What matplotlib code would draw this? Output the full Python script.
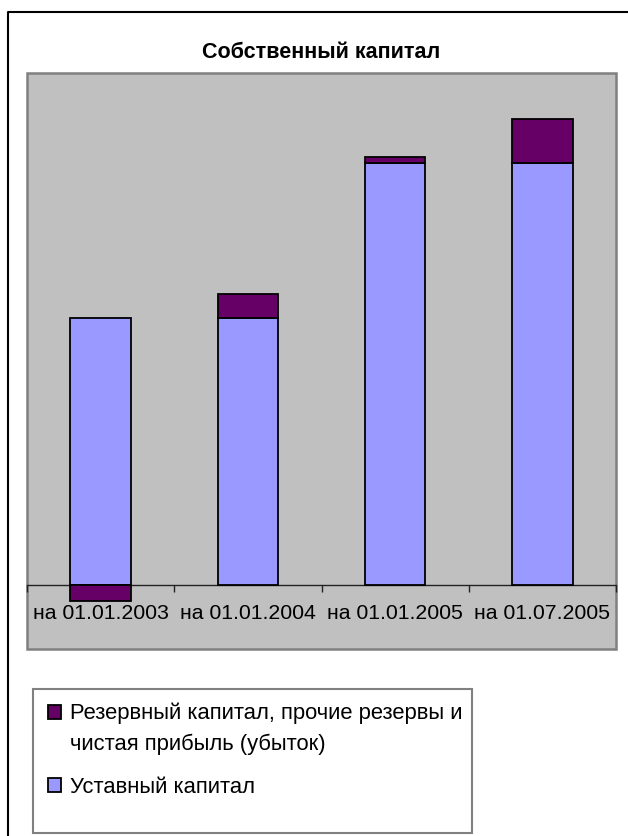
import matplotlib.pyplot as plt
import numpy as np
from matplotlib.patches import Rectangle
from matplotlib.lines import Line2D
from matplotlib.legend_handler import HandlerPatch

plt.rcParams['font.family'] = ['Liberation Sans', 'DejaVu Sans']

categories = ['на 01.01.2003', 'на 01.01.2004', 'на 01.01.2005', 'на 01.07.2005']
ustavny = [417, 417, 659, 659]
reserve = [-25, 37, 9, 69]

label_ustav = 'Уставный капитал'
label_reserve = 'Резервный капитал, прочие резервы и\nчистая прибыль (убыток)'

blue = '#9999FF'
purple = '#660066'

W, H = 628, 836
fig = plt.figure(figsize=(W / 100, H / 100), dpi=100)

# outer chart border: only top and left edges are inside the image
fig.lines.append(Line2D([8 / W, 8 / W, 1.0], [0.0, 1 - 12 / H, 1 - 12 / H],
                        transform=fig.transFigure, color='black', linewidth=1.5))

ax = fig.add_axes([27 / W, 1 - 649 / H, 589 / W, 576 / H])
ax.set_facecolor('#C0C0C0')
ax.patch.set_edgecolor('#808080')
ax.patch.set_linewidth(1.8)

x = np.arange(len(categories))
ustavny = np.array(ustavny)
reserve = np.array(reserve)
bottoms = np.where(reserve >= 0, ustavny, 0)

ax.bar(x, ustavny, width=0.41, color=blue, edgecolor='black', linewidth=1.3, zorder=2)
ax.bar(x, reserve, width=0.41, bottom=bottoms, color=purple, edgecolor='black', linewidth=1.3, zorder=2)

ax.set_xlim(-0.5, len(categories) - 0.5)
ax.set_ylim(-100, 800)
ax.set_yticks([])

for s in ['top', 'left', 'right']:
    ax.spines[s].set_visible(False)
ax.spines['bottom'].set_position(('data', 0))
ax.spines['bottom'].set_color('#222222')
ax.spines['bottom'].set_linewidth(1.0)
ax.spines['bottom'].set_zorder(1)

ax.set_xticks(x)
ax.set_xticklabels(categories, fontsize=15.3)
ax.set_xticks(np.arange(len(categories) + 1) - 0.5, minor=True)
ax.tick_params(axis='x', which='major', length=0, pad=14)
ax.tick_params(axis='x', which='minor', length=5, width=1, color='#222222', direction='out')

ax.set_title('Собственный капитал', fontsize=15.5, fontweight='bold', pad=11)

# legend box
fig.patches.append(Rectangle((33 / W, 1 - 833 / H), (472 - 33) / W, (833 - 689) / H,
                             transform=fig.transFigure, facecolor='white',
                             edgecolor='#808080', linewidth=1.5))


def top_patch(legend, orig_handle, xdescent, ydescent, width, height, fontsize):
    return Rectangle((-xdescent, -ydescent + 0.76 * fontsize), width, height)


h_res = Rectangle((0, 0), 1, 1, facecolor=purple, edgecolor='black', linewidth=1.3)
h_ust = Rectangle((0, 0), 1, 1, facecolor=blue, edgecolor='black', linewidth=1.3)
leg = fig.legend([h_res, h_ust], [label_reserve, label_ustav], loc='upper left',
                 bbox_to_anchor=(37 / W, 1 - 692 / H), frameon=False, fontsize=15.8,
                 handlelength=0.6, handleheight=0.6, handletextpad=0.4,
                 labelspacing=1.0, borderpad=0,
                 handler_map={h_res: HandlerPatch(patch_func=top_patch)})
for t in leg.get_texts():
    t.set_linespacing(1.55)

fig.savefig('out.png', dpi=100)
